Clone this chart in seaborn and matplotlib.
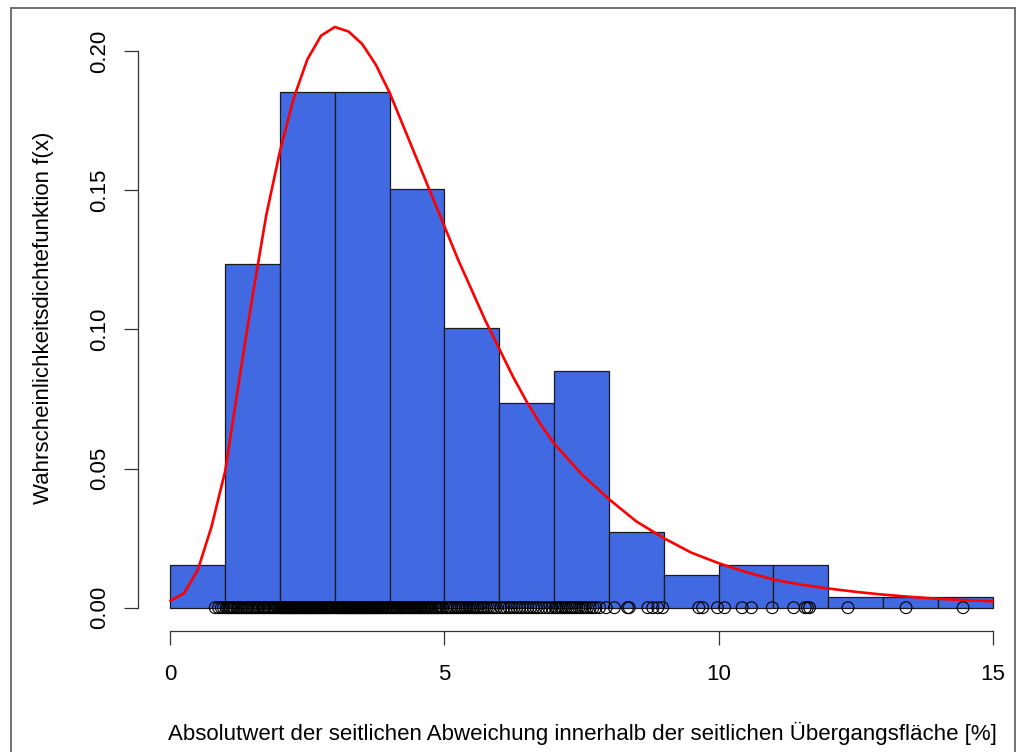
import numpy as np
import pandas as pd
import seaborn as sns
import matplotlib.pyplot as plt
from matplotlib.lines import Line2D

# ---------------- data ----------------
bin_edges = list(range(0, 16))

obs_b0 = [0.82, 0.88, 0.93, 0.97]
obs_b1 = [1.02, 1.05, 1.08, 1.10, 1.14, 1.17, 1.21, 1.24, 1.26, 1.30,
          1.33, 1.37, 1.40, 1.42, 1.46, 1.49, 1.52, 1.55, 1.58, 1.61,
          1.64, 1.68, 1.71, 1.73, 1.77, 1.80, 1.83, 1.86, 1.89, 1.92,
          1.95, 1.98]
obs_b2 = [2.01, 2.03, 2.05, 2.07, 2.09, 2.11, 2.13, 2.15, 2.17, 2.19,
          2.21, 2.23, 2.25, 2.27, 2.29, 2.31, 2.33, 2.35, 2.37, 2.39,
          2.41, 2.43, 2.45, 2.47, 2.49, 2.51, 2.53, 2.55, 2.57, 2.59,
          2.61, 2.63, 2.65, 2.67, 2.69, 2.71, 2.73, 2.75, 2.77, 2.79,
          2.81, 2.84, 2.86, 2.89, 2.91, 2.93, 2.96, 2.98]
obs_b3 = [3.02, 3.04, 3.06, 3.08, 3.10, 3.12, 3.14, 3.16, 3.18, 3.20,
          3.22, 3.24, 3.26, 3.28, 3.30, 3.32, 3.34, 3.36, 3.38, 3.40,
          3.42, 3.44, 3.46, 3.48, 3.50, 3.52, 3.54, 3.56, 3.58, 3.60,
          3.62, 3.64, 3.66, 3.68, 3.70, 3.72, 3.74, 3.76, 3.78, 3.80,
          3.82, 3.85, 3.87, 3.89, 3.92, 3.94, 3.96, 3.99]
obs_b4 = [4.01, 4.04, 4.06, 4.08, 4.11, 4.13, 4.15, 4.18, 4.20, 4.23,
          4.25, 4.27, 4.30, 4.32, 4.35, 4.37, 4.39, 4.42, 4.44, 4.47,
          4.49, 4.52, 4.54, 4.57, 4.59, 4.62, 4.64, 4.67, 4.70, 4.72,
          4.75, 4.77, 4.80, 4.83, 4.85, 4.88, 4.91, 4.94, 4.97]
obs_b5 = [5.03, 5.06, 5.10, 5.13, 5.17, 5.20, 5.24, 5.27, 5.31, 5.34,
          5.38, 5.41, 5.45, 5.48, 5.52, 5.55, 5.59, 5.62, 5.66, 5.70,
          5.73, 5.77, 5.81, 5.86, 5.90, 5.95]
obs_b6 = [6.03, 6.08, 6.13, 6.18, 6.22, 6.27, 6.32, 6.37, 6.42, 6.47,
          6.52, 6.57, 6.62, 6.67, 6.72, 6.78, 6.84, 6.90, 6.96]
obs_b7 = [7.02, 7.05, 7.08, 7.12, 7.15, 7.19, 7.22, 7.26, 7.30, 7.33,
          7.37, 7.41, 7.45, 7.49, 7.53, 7.57, 7.61, 7.66, 7.71, 7.76,
          7.83, 7.95]
obs_b8 = [8.10, 8.34, 8.37, 8.71, 8.80, 8.89, 8.98]
obs_b9 = [9.64, 9.71, 9.98]
obs_b10 = [10.11, 10.43, 10.60, 10.98]
obs_b11 = [11.37, 11.58, 11.62, 11.66]
obs_tail = [12.36, 13.42, 14.46]

values = (obs_b0 + obs_b1 + obs_b2 + obs_b3 + obs_b4 + obs_b5 + obs_b6 +
          obs_b7 + obs_b8 + obs_b9 + obs_b10 + obs_b11 + obs_tail)

curve_x = [0.0, 0.25, 0.5, 0.75, 1.0, 1.25, 1.5, 1.75, 2.0, 2.25, 2.5, 2.75,
           3.0, 3.25, 3.5, 3.75, 4.0, 4.25, 4.5, 4.75, 5.0, 5.25, 5.5, 5.75,
           6.0, 6.25, 6.5, 6.75, 7.0, 7.5, 8.0, 8.5, 9.0, 9.5, 10.0, 10.5,
           11.0, 11.5, 12.0, 12.5, 13.0, 13.5, 14.0, 14.5, 15.0]
curve_y = [0.0025, 0.0052, 0.0135, 0.029, 0.049, 0.081, 0.112, 0.141, 0.164,
           0.183, 0.197, 0.2055, 0.2086, 0.2070, 0.2025, 0.195, 0.185, 0.173,
           0.161, 0.149, 0.137, 0.125, 0.114, 0.103, 0.093, 0.083, 0.074,
           0.066, 0.059, 0.048, 0.039, 0.031, 0.025, 0.0198, 0.0160, 0.0128,
           0.0101, 0.0083, 0.0069, 0.0057, 0.0047, 0.0039, 0.0032, 0.0027,
           0.0023]

x_ticks = [0, 5, 10, 15]
y_ticks = [0.00, 0.05, 0.10, 0.15, 0.20]
y_tick_labels = ["0.00", "0.05", "0.10", "0.15", "0.20"]
x_label = "Absolutwert der seitlichen Abweichung innerhalb der seitlichen Übergangsfläche [%]"
y_label = "Wahrscheinlichkeitsdichtefunktion f(x)"

# ---------------- style ----------------
sns.set_style("white")
plt.rcParams["font.family"] = ["Liberation Sans", "DejaVu Sans"]
plt.rcParams["text.color"] = "black"
plt.rcParams["axes.labelcolor"] = "black"

W, H = 1023, 752
fig = plt.figure(figsize=(W / 100, H / 100), dpi=100)
L, R, T, B = 142.9, 1020.1, 9.2, 624.4
ax = fig.add_axes([L / W, 1 - B / H, (R - L) / W, (B - T) / H])
ax.set_facecolor("none")

df = pd.DataFrame({"x": values, "zero": [0.0] * len(values)})
cdf = pd.DataFrame({"x": curve_x, "y": curve_y})

sns.histplot(data=df, x="x", bins=bin_edges, stat="density", color="#4169E1",
             edgecolor="#1a1a1a", linewidth=0.9, alpha=1, ax=ax)
sns.lineplot(data=cdf, x="x", y="y", color="#FF0000", linewidth=1.9, ax=ax,
             zorder=4)
sns.scatterplot(data=df, x="x", y="zero", marker="o", s=72, facecolor="none",
                edgecolor="black", linewidth=0.8, ax=ax, zorder=5, clip_on=False)

ax.set_xlim(-0.5, 15.5)
ax.set_ylim(-0.006, 0.215)
ax.set_xticks(x_ticks)
ax.set_xticklabels([str(t) for t in x_ticks])
ax.set_yticks(y_ticks)
ax.set_yticklabels(y_tick_labels)

for s in ["top", "right"]:
    ax.spines[s].set_visible(False)
ax.spines["left"].set_position(("outward", 5.2 * 0.72))
ax.spines["bottom"].set_position(("outward", 6.6 * 0.72))
ax.spines["left"].set_bounds(0, 0.20)
ax.spines["bottom"].set_bounds(0, 15)
for s in ["left", "bottom"]:
    ax.spines[s].set_color("#333333")
    ax.spines[s].set_linewidth(0.9)

ax.tick_params(axis="both", which="major", direction="out", length=9.8,
               width=0.9, color="#333333", labelsize=16, labelcolor="black",
               bottom=True, left=True)
ax.tick_params(axis="x", pad=14)
ax.tick_params(axis="y", pad=10, labelrotation=90)
for lab in ax.get_yticklabels():
    lab.set_va("center")

ax.set_xlabel(x_label, fontsize=16, color="black")
ax.set_ylabel(y_label, fontsize=16, color="black")
ax.xaxis.set_label_coords(582 / W, 1 - 733 / H, transform=fig.transFigure)
ax.xaxis.label.set_va("center")
ax.yaxis.set_label_coords(44 / W, 1 - 318 / H, transform=fig.transFigure)
ax.yaxis.label.set_va("center")

# outer border (partially visible frame)
bc = "#666666"
fig.add_artist(Line2D([11 / W, 11 / W], [0, 1 - 8 / H], transform=fig.transFigure, color=bc, lw=1.3))
fig.add_artist(Line2D([11 / W, 1015 / W], [1 - 8 / H, 1 - 8 / H], transform=fig.transFigure, color=bc, lw=1.3))
fig.add_artist(Line2D([1015 / W, 1015 / W], [0, 1 - 8 / H], transform=fig.transFigure, color=bc, lw=1.3))

fig.savefig("out.png", dpi=100)
